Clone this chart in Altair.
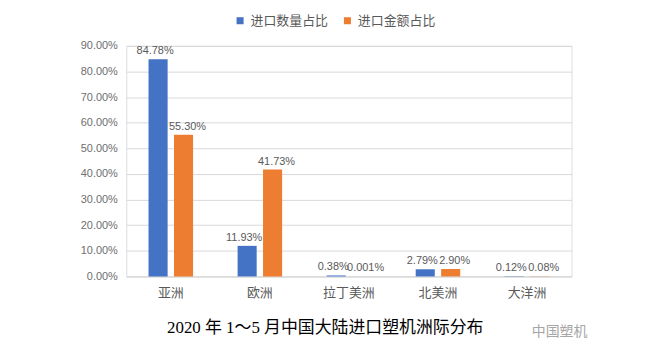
import altair as alt
import pandas as pd

regions = ["亚洲", "欧洲", "拉丁美洲", "北美洲", "大洋洲"]
series = ["进口数量占比", "进口金额占比"]
qty = [84.78, 11.93, 0.38, 2.79, 0.12]
amt = [55.30, 41.73, 0.001, 2.90, 0.08]
qty_text = ["84.78%", "11.93%", "0.38%", "2.79%", "0.12%"]
amt_text = ["55.30%", "41.73%", "0.001%", "2.90%", "0.08%"]
y_ticks = [0.0, 0.1, 0.2, 0.3, 0.4, 0.5, 0.6, 0.7, 0.8, 0.9]
title_text = "2020 年 1～5 月中国大陆进口塑机洲际分布"
watermark = "中国塑机"

rows = []
for i, r in enumerate(regions):
    rows.append({"region": r, "series": series[0], "value": qty[i] / 100, "label": qty_text[i]})
    rows.append({"region": r, "series": series[1], "value": amt[i] / 100, "label": amt_text[i]})
df = pd.DataFrame(rows)

FONT = "Liberation Sans, Noto Sans CJK SC, sans-serif"
GRAY = "#595959"

x = alt.X(
    "region:N",
    sort=regions,
    scale=alt.Scale(paddingInner=0.5, paddingOuter=0.25),
    axis=alt.Axis(
        title=None, labelAngle=0, labelFontSize=13, labelColor=GRAY, labelPadding=10,
        ticks=False, domainColor="#d9d9d9", labelFont=FONT,
    ),
)
xo = alt.XOffset("series:N", sort=series, scale=alt.Scale(paddingInner=0.25))
y = alt.Y(
    "value:Q",
    scale=alt.Scale(domain=[0, 0.9], nice=False),
    axis=alt.Axis(
        title=None, values=y_ticks, format=".2%", labelFontSize=11, labelColor="#6e6e6e",
        labelFont=FONT, ticks=False, domain=False, gridColor="#d9d9d9", labelPadding=9,
    ),
)
color = alt.Color(
    "series:N",
    sort=series,
    scale=alt.Scale(domain=series, range=["#4472C4", "#ED7D31"]),
    legend=alt.Legend(
        orient="none", legendX=108, legendY=-32, direction="horizontal", title=None,
        symbolType="square", symbolSize=50, symbolStrokeWidth=0, labelFontSize=13,
        labelColor=GRAY, labelFont=FONT, columnPadding=12,
    ),
)

base = alt.Chart(df)
bars = base.mark_bar().encode(x=x, xOffset=xo, y=y, color=color)

lab_q = base.transform_filter(alt.datum.series == series[0]).mark_text(
    baseline="bottom", dy=-3, dx=-3, fontSize=11, color=GRAY, font=FONT
).encode(x=x, xOffset=xo, y=y, text="label:N")
lab_a = base.transform_filter(alt.datum.series == series[1]).mark_text(
    baseline="bottom", dy=-3, dx=4, fontSize=11, color=GRAY, font=FONT
).encode(x=x, xOffset=xo, y=y, text="label:N")

ttl = alt.Chart(pd.DataFrame({"t": [title_text]})).mark_text(
    align="left", baseline="middle", fontSize=17, color="#000000",
    font="Liberation Serif, Noto Sans CJK SC, serif",
).encode(text="t:N", x=alt.value(41), y=alt.value(284))

wm = alt.Chart(pd.DataFrame({"t": [watermark]})).mark_text(
    align="left", baseline="middle", fontSize=14, color="#a6a6a6", font=FONT
).encode(text="t:N", x=alt.value(408), y=alt.value(288))

chart = alt.layer(bars, lab_q, lab_a, ttl, wm).properties(
    width=448,
    height=232,
    autosize=alt.AutoSizeParams(type="none"),
    padding={"left": 119, "top": 37, "right": 90, "bottom": 80},
).configure_view(stroke=None).configure(background="white")

chart.save("out.html", embed_options={"renderer": "svg", "actions": False})
